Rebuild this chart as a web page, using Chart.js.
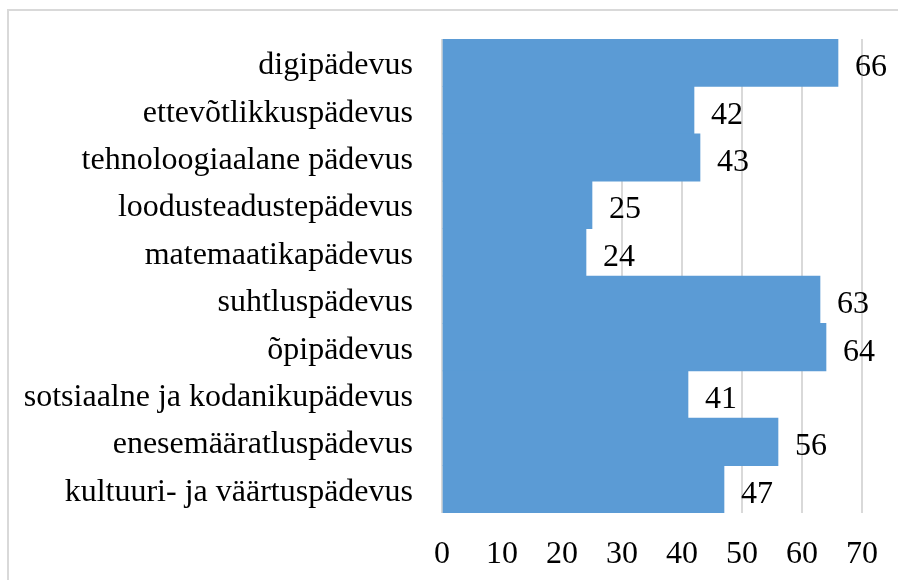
<!DOCTYPE html>
<html>
<head>
<meta charset="utf-8">
<script src="https://cdn.jsdelivr.net/npm/chart.js@4/dist/chart.umd.min.js"></script>
<style>
  html, body { margin: 0; padding: 0; background: #fff; }
  #wrap { width: 898px; height: 580px; position: relative; }
</style>
</head>
<body>
<div id="wrap"><canvas id="chart" width="898" height="580"></canvas></div>
<script>
// Pädevused (ülevalt alla)
const categories = [
    'digipädevus',
    'ettevõtlikkuspädevus',
    'tehnoloogiaalane pädevus',
    'loodusteadustepädevus',
    'matemaatikapädevus',
    'suhtluspädevus',
    'õpipädevus',
    'sotsiaalne ja kodanikupädevus',
    'enesemääratluspädevus',
    'kultuuri- ja väärtuspädevus'
];
const values = [66, 42, 43, 25, 24, 63, 64, 41, 56, 47];
const xTicks = [0, 10, 20, 30, 40, 50, 60, 70];

const FONT = '"Liberation Serif", "Times New Roman", serif';
const FSIZE = 32;

// raam ümber joonise
const framePlugin = {
    id: 'frame',
    beforeDraw(chart) {
        const c = chart.ctx;
        c.save();
        c.fillStyle = '#fff';
        c.fillRect(0, 0, chart.width, chart.height);
        c.strokeStyle = '#d9d9d9';
        c.lineWidth = 2;
        c.strokeRect(8, 10, chart.width + 10, chart.height + 10);
        c.restore();
    }
};

// väärtused tulpade kõrval
const valueLabels = {
    id: 'valueLabels',
    afterDatasetsDraw(chart) {
        const c = chart.ctx;
        const meta = chart.getDatasetMeta(0);
        c.save();
        c.font = FSIZE + 'px ' + FONT;
        c.fillStyle = '#000';
        c.textAlign = 'left';
        c.textBaseline = 'middle';
        meta.data.forEach((bar, i) => {
            c.fillText(values[i], bar.x + 17, bar.y + 5);
        });
        c.restore();
    }
};

new Chart(document.getElementById('chart'), {
    type: 'bar',
    data: {
        labels: categories,
        datasets: [{
            data: values,
            backgroundColor: '#5b9bd5',
            borderWidth: 0,
            categoryPercentage: 1.0,
            barPercentage: 1.0
        }]
    },
    options: {
        indexAxis: 'y',
        responsive: false,
        animation: false,
        layout: { padding: { top: 39, right: 36, bottom: 0, left: 0 } },
        plugins: {
            legend: { display: false },
            tooltip: { enabled: false }
        },
        scales: {
            x: {
                min: 0,
                max: 70,
                afterBuildTicks: scale => { scale.ticks = xTicks.map(v => ({ value: v })); },
                afterFit: scale => {
                    scale.height = 67;
                    scale.paddingLeft = 0;
                    scale.paddingRight = 0;
                },
                border: { display: false },
                grid: { color: '#d9d9d9', lineWidth: 2, drawTicks: false },
                ticks: {
                    padding: 22,
                    color: '#000',
                    font: { family: FONT, size: FSIZE }
                }
            },
            y: {
                afterFit: scale => {
                    scale.width = 442;
                    scale.paddingTop = 0;
                    scale.paddingBottom = 0;
                },
                border: { display: false },
                grid: { display: false, drawTicks: false },
                ticks: {
                    padding: 29,
                    labelOffset: 3,
                    color: '#000',
                    font: { family: FONT, size: FSIZE }
                }
            }
        }
    },
    plugins: [framePlugin, valueLabels]
});
</script>
</body>
</html>
